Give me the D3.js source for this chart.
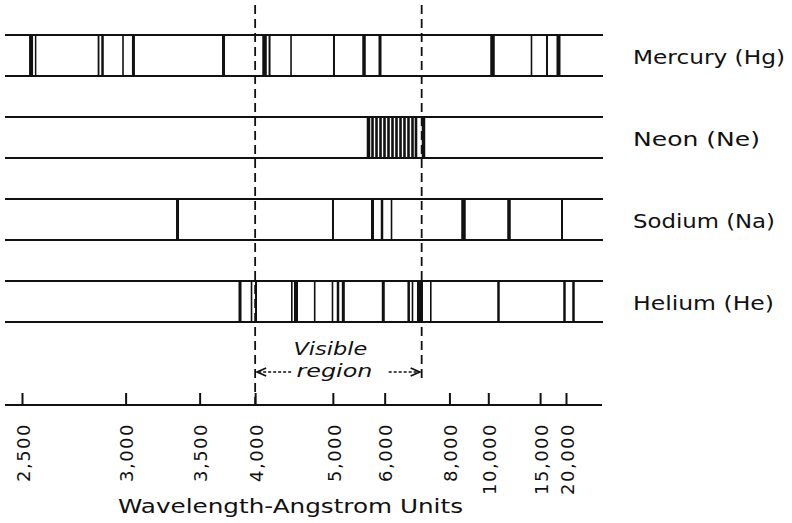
<!DOCTYPE html>
<html>
<head>
<meta charset="utf-8">
<script src="https://cdn.jsdelivr.net/npm/d3@7"></script>
<style>
  html, body { margin: 0; padding: 0; background: #fff; }
  svg { display: block; }
  text { font-family: "DejaVu Sans", sans-serif; fill: #111; }
</style>
</head>
<body>
<svg id="chart" width="792" height="523"></svg>
<script>
// ---------------- DATA ----------------
const elements = ["Mercury (Hg)", "Neon (Ne)", "Sodium (Na)", "Helium (He)"];

// spectral line wavelengths (Angstrom) and relative line weights
const mercuryLines   = [2537, 2556, 2851, 2872, 2985, 3046, 3699, 4099, 4154, 4407, 5018, 5557, 5894, 10279, 13850, 16069, 18238];
const mercuryWeights = [4, 1.5, 1.8, 2.5, 1.6, 3, 3, 4.5, 2, 1.6, 2, 3.5, 3, 4.5, 1.6, 2, 4];

const neonLines   = [5647, 5731, 5817, 5905, 5996, 6090, 6187, 6287, 6391, 6497, 6608, 6722, 6825, 7058];
const neonWeights = [3.5, 2.6, 2.6, 2.6, 2.6, 2.6, 2.6, 2.6, 2.6, 2.6, 2.6, 2.6, 2.6, 3.5];

const sodiumLines   = [3334, 5002, 5731, 5939, 6163, 8624, 11537, 19022];
const sodiumWeights = [3, 2, 3, 2.5, 1.6, 4.5, 3.5, 2];

const heliumLines   = [3850, 3963, 4009, 4417, 4470, 4724, 4994, 5084, 5174, 5968, 6613, 6722, 6947, 7300, 10703, 19620, 22134];
const heliumWeights = [3, 1.6, 2, 1.6, 4, 1.6, 1.6, 2.5, 3, 3, 2.5, 1.6, 6, 1.6, 2.5, 2.5, 2.5];

const tickLabels = [2500, 3000, 3500, 4000, 5000, 6000, 8000, 10000, 15000, 20000];
const visibleRange = [4000, 7000];
const axisTitle = "Wavelength-Angstrom Units";
const visibleText = ["Visible", "region"];

// ---------------- LAYOUT ----------------
const svg = d3.select("#chart");
const series = [
  { name: elements[0], lines: mercuryLines, weights: mercuryWeights, labelW: 152 },
  { name: elements[1], lines: neonLines,    weights: neonWeights,    labelW: 127 },
  { name: elements[2], lines: sodiumLines,  weights: sodiumWeights,  labelW: 142 },
  { name: elements[3], lines: heliumLines,  weights: heliumWeights,  labelW: 141 }
];

// Wavelength axis is linear in 1/lambda (wavenumber)
const xr = d3.scaleLinear().domain([1 / 2500, 1 / 20000]).range([22, 566]);
const X = lam => xr(1 / lam);

const bandX0 = 5, bandX1 = 603;
const bandH = 41;
const yBand = d3.scaleBand().domain(elements).range([35, 35 + 4 * 82]).paddingInner(0);
const axisY = 405;

// bands
const g = svg.append("g");
series.forEach(s => {
  const top = yBand(s.name);
  const bot = top + bandH;
  const bg = g.append("g");
  bg.selectAll("rect.sl").data(s.lines.map((l, i) => ({ l, w: s.weights[i] })))
    .enter().append("rect")
    .attr("class", "sl")
    .attr("x", d => X(d.l) - d.w / 2)
    .attr("width", d => d.w)
    .attr("y", top)
    .attr("height", bandH)
    .attr("fill", "#111");
  [top, bot].forEach(y => {
    bg.append("line")
      .attr("x1", bandX0).attr("x2", bandX1)
      .attr("y1", y).attr("y2", y)
      .attr("stroke", "#111").attr("stroke-width", 2);
  });
  bg.append("text")
    .attr("x", 633)
    .attr("y", top + bandH / 2 + 8)
    .attr("font-size", 20)
    .attr("textLength", s.labelW)
    .attr("lengthAdjust", "spacingAndGlyphs")
    .text(s.name);
});

// visible region dashed lines
const vx0 = X(visibleRange[0]), vx1 = X(visibleRange[1]);
svg.append("line")
  .attr("x1", vx0).attr("x2", vx0).attr("y1", 5).attr("y2", axisY)
  .attr("stroke", "#111").attr("stroke-width", 1.8).attr("stroke-dasharray", "9,5");
svg.append("line")
  .attr("x1", vx1).attr("x2", vx1).attr("y1", 5).attr("y2", 383)
  .attr("stroke", "#111").attr("stroke-width", 1.8).attr("stroke-dasharray", "9,5");

// visible region label and arrows
const midX = (vx0 + vx1) / 2;
svg.append("text").attr("x", midX - 8).attr("y", 355)
  .attr("text-anchor", "middle").attr("font-style", "italic").attr("font-size", 17)
  .attr("textLength", 74).attr("lengthAdjust", "spacingAndGlyphs")
  .text(visibleText[0]);
svg.append("text").attr("x", midX - 4).attr("y", 377)
  .attr("text-anchor", "middle").attr("font-style", "italic").attr("font-size", 17)
  .attr("textLength", 76).attr("lengthAdjust", "spacingAndGlyphs")
  .text(visibleText[1]);

const arrowY = 372;
const ag = svg.append("g").attr("stroke", "#111").attr("fill", "none").attr("stroke-width", 1.4);
ag.append("line").attr("x1", vx0 + 3).attr("x2", vx0 + 36).attr("y1", arrowY).attr("y2", arrowY)
  .attr("stroke-dasharray", "3,2");
ag.append("path").attr("d", `M${vx0 + 11},${arrowY - 4} L${vx0 + 2},${arrowY} L${vx0 + 11},${arrowY + 4}`)
  .attr("stroke-width", 1.8);
ag.append("line").attr("x1", vx1 - 33).attr("x2", vx1 - 3).attr("y1", arrowY).attr("y2", arrowY)
  .attr("stroke-dasharray", "3,2");
ag.append("path").attr("d", `M${vx1 - 11},${arrowY - 4} L${vx1 - 2},${arrowY} L${vx1 - 11},${arrowY + 4}`)
  .attr("stroke-width", 1.8);

// axis
svg.append("line").attr("x1", 5).attr("x2", 602).attr("y1", axisY).attr("y2", axisY)
  .attr("stroke", "#111").attr("stroke-width", 2.2);

const fmt = d3.format(",");
const axis = d3.axisBottom(xr)
  .tickValues(tickLabels.map(v => 1 / v))
  .tickFormat(d => fmt(Math.round(1 / d)))
  .tickSizeInner(-12)
  .tickSizeOuter(0);
const ax = svg.append("g").attr("transform", `translate(0,${axisY})`).call(axis);
ax.select(".domain").remove();
ax.selectAll(".tick line").attr("stroke", "#111").attr("stroke-width", 2);
ax.selectAll(".tick text")
  .attr("transform", "rotate(-90)")
  .attr("x", -18).attr("y", 1).attr("dy", "0.35em")
  .attr("text-anchor", "end")
  .attr("font-family", "DejaVu Sans, sans-serif")
  .attr("font-size", 18)
  .attr("letter-spacing", 1.5)
  .attr("fill", "#111");

svg.append("text").attr("x", 118).attr("y", 513)
  .attr("font-size", 20)
  .attr("textLength", 345).attr("lengthAdjust", "spacingAndGlyphs")
  .text(axisTitle);
</script>
</body>
</html>
